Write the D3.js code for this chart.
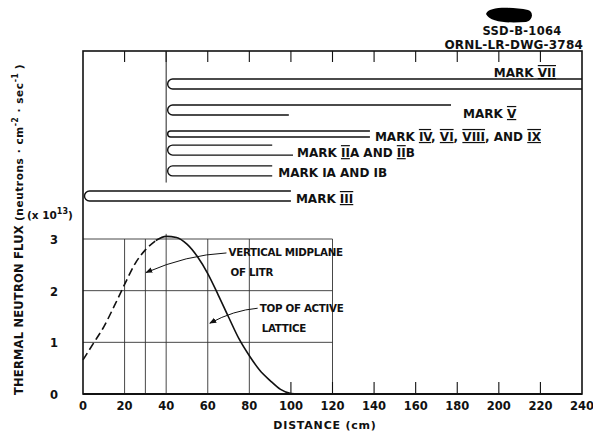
<!DOCTYPE html>
<html>
<head>
<meta charset="utf-8">
<script src="https://cdn.jsdelivr.net/npm/d3@7"></script>
<style>
  body { margin: 0; background: #fff; }
  text { font-family: "DejaVu Sans", "Liberation Sans", sans-serif; font-weight: bold; fill: #111; }
</style>
</head>
<body>
<div id="chart"></div>
<script>
// ---- data ----
const xTicks = [0, 20, 40, 60, 80, 100, 120, 140, 160, 180, 200, 220, 240];
const yTicks = [0, 1, 2, 3];
const gridX = [20, 30, 40, 60, 80, 120];
const gridY = [1, 2, 3];

// thermal flux profile (x10^13), dashed below ~35 cm
const fluxDistance = [0, 5, 10, 15, 20, 25, 30, 35, 40, 45, 50, 55, 60, 65, 70, 75, 80, 85, 90, 95, 100, 104];
const fluxValue    = [0.66, 0.98, 1.30, 1.70, 2.12, 2.52, 2.79, 2.97, 3.05, 3.03, 2.90, 2.66, 2.33, 1.92, 1.49, 1.07, 0.74, 0.46, 0.26, 0.09, 0.01, 0];
const dashedUntil = 35;

// fuel element lengths (cm): start, end of upper leg, end of lower leg
const markLabels = ["MARK [VII]", "MARK [V]", "MARK [IV], [VI], [VIII], AND [IX]", "MARK [II]A AND [II]B", "MARK IA AND IB", "MARK [III]"];
const markStart  = [40, 40, 40, 40, 40, 0];
const markUpper  = [240, 177, 138, 91, 91, 100];
const markLower  = [240, 99, 138, 101, 91, 100];

// layout only (row positions, hairpin half height, label offsets)
const markRow   = [0, 1.16, 2.23, 2.95, 3.88, 5];
const markHalf  = [5, 5, 3, 5, 5, 5];
const labelPos  = [[556, -7, "end"], [12, 8, "start"], [5, 7, "start"], [4, 7, "start"], [6, 6, "start"], [5, 7, "start"]];

const annotations = [
  {lines: ["VERTICAL MIDPLANE", "OF LITR"], tx: 70, ty: 2.75, from: [69, 2.73], to: [30.3, 2.35]},
  {lines: ["TOP OF ACTIVE", "LATTICE"], tx: 85, ty: 1.66, from: [84, 1.66], to: [61, 1.37]}
];

class fluxChart {
  constructor(element_id) {
    const W = 593, H = 435;
    this.svg = d3.select("#" + element_id).append("svg")
      .attr("width", W).attr("height", H);
    const svg = this.svg;

    const x = d3.scaleLinear().domain([0, 240]).range([83, 582]);
    const y = d3.scaleLinear().domain([0, 3]).range([394, 239]);
    const row = d3.scaleLinear().domain([0, 5]).range([84, 196]);
    const top = 51;

    svg.append("defs").append("marker")
      .attr("id", "arrow").attr("viewBox", "0 0 10 10")
      .attr("refX", 9).attr("refY", 5)
      .attr("markerWidth", 7).attr("markerHeight", 7)
      .attr("orient", "auto-start-reverse")
      .append("path").attr("d", "M0,1 L10,5 L0,9 z").attr("fill", "#111");

    // grid in the lower part
    svg.append("g").selectAll("line").data(gridY).join("line")
      .attr("x1", x(0)).attr("x2", x(120))
      .attr("y1", d => y(d)).attr("y2", d => y(d))
      .attr("stroke", "#333").attr("stroke-width", 0.9);
    svg.append("g").selectAll("line").data(gridX).join("line")
      .attr("x1", d => x(d)).attr("x2", d => x(d))
      .attr("y1", d => d == 40 ? y(3.1) : y(3)).attr("y2", y(0))
      .attr("stroke", "#333").attr("stroke-width", 0.9);

    // frame
    svg.append("rect")
      .attr("x", x(0)).attr("y", top)
      .attr("width", x(240) - x(0)).attr("height", y(0) - top)
      .attr("fill", "none").attr("stroke", "#111").attr("stroke-width", 1.6);

    // ticks along the top edge and the bottom edge
    svg.append("g").selectAll("line").data(xTicks.slice(1, -1)).join("line")
      .attr("x1", d => x(d)).attr("x2", d => x(d))
      .attr("y1", top).attr("y2", top + 11)
      .attr("stroke", "#111").attr("stroke-width", 1.1);
    svg.append("g").selectAll("line").data(xTicks.filter(d => d > 80 && d < 240)).join("line")
      .attr("x1", d => x(d)).attr("x2", d => x(d))
      .attr("y1", y(0)).attr("y2", y(0) - 12)
      .attr("stroke", "#111").attr("stroke-width", 1.1);
    svg.append("line")
      .attr("x1", x(0)).attr("x2", x(240)).attr("y1", y(0)).attr("y2", y(0))
      .attr("stroke", "#111").attr("stroke-width", 2);

    // the 40 cm line in the upper part
    svg.append("line")
      .attr("x1", x(40)).attr("x2", x(40)).attr("y1", top).attr("y2", row(4.4))
      .attr("stroke", "#222").attr("stroke-width", 1);

    // fuel element hairpins
    const hairpin = (i) => {
      const cy = row(markRow[i]), h = markHalf[i];
      const x0 = x(markStart[i]) + 1.5;
      return `M${x(markUpper[i])},${cy - h} L${x0 + h},${cy - h} ` +
             `A${h},${h} 0 0 0 ${x0 + h},${cy + h} L${x(markLower[i])},${cy + h}`;
    };
    svg.append("g").selectAll("path").data(markLabels).join("path")
      .attr("d", (d, i) => hairpin(i))
      .attr("fill", "none").attr("stroke", "#111").attr("stroke-width", 1.4);

    const labels = svg.append("g").selectAll("text").data(markLabels).join("text")
      .attr("x", (d, i) => labelPos[i][2] == "end" ? labelPos[i][0] : x(Math.max(markUpper[i], markLower[i])) + labelPos[i][0])
      .attr("y", (d, i) => row(markRow[i]) + labelPos[i][1])
      .attr("text-anchor", (d, i) => labelPos[i][2])
      .attr("font-size", 12);
    labels.each(function(d) {
      const t = d3.select(this);
      d.split(/(\[[^\]]+\])/).filter(s => s.length).forEach(s => {
        if (s[0] == "[") {
          t.append("tspan").text(s.slice(1, -1))
            .style("text-decoration", "underline overline");
        } else {
          t.append("tspan").text(s);
        }
      });
    });

    // flux curve
    const pts = fluxDistance.map((d, i) => [d, fluxValue[i]]);
    const line = d3.line().x(d => x(d[0])).y(d => y(d[1])).curve(d3.curveMonotoneX);
    svg.append("path").datum(pts.filter(p => p[0] <= dashedUntil))
      .attr("d", line).attr("fill", "none").attr("stroke", "#111")
      .attr("stroke-width", 1.6).attr("stroke-dasharray", "8,4");
    svg.append("path").datum(pts.filter(p => p[0] >= dashedUntil))
      .attr("d", line).attr("fill", "none").attr("stroke", "#111")
      .attr("stroke-width", 1.6);

    // annotations
    annotations.forEach(a => {
      const t = svg.append("text").attr("font-size", 10.3).attr("letter-spacing", -0.3);
      a.lines.forEach((l, k) => t.append("tspan")
        .attr("x", x(a.tx) + (k ? 2 : 0)).attr("y", y(a.ty) + 4 + k * 20).text(l));
      const [x1, y1] = [x(a.from[0]), y(a.from[1])];
      const [x2, y2] = [x(a.to[0]), y(a.to[1])];
      const cx = (x1 + x2) / 2, cyy = Math.min(y1, y2) + 2;
      svg.append("path")
        .attr("d", `M${x1},${y1} Q${cx},${cyy} ${x2},${y2}`)
        .attr("fill", "none").attr("stroke", "#111").attr("stroke-width", 1)
        .attr("marker-end", "url(#arrow)");
    });

    // x tick labels and title
    svg.append("g").selectAll("text").data(xTicks).join("text")
      .attr("x", d => x(d)).attr("y", y(0) + 16)
      .attr("text-anchor", "middle").attr("font-size", 11.5)
      .text(d => d);
    svg.append("text").attr("x", 325).attr("y", 429)
      .attr("text-anchor", "middle").attr("font-size", 11).attr("letter-spacing", 0.8)
      .text("DISTANCE (cm)");

    // y tick labels
    svg.append("g").selectAll("text").data(yTicks).join("text")
      .attr("x", 54).attr("y", d => y(d) + 5)
      .attr("text-anchor", "middle").attr("font-size", 11.5)
      .text(d => d);
    const mult = svg.append("text").attr("x", 27).attr("y", 219).attr("font-size", 10.5);
    mult.append("tspan").text("(x 10");
    mult.append("tspan").attr("dy", -5).attr("font-size", 8).text("13");
    mult.append("tspan").attr("dy", 5).text(")");

    // y axis title
    const yt = svg.append("text").attr("transform", "translate(23,395) rotate(-90)")
      .attr("font-size", 11.5).attr("letter-spacing", 0.2);
    yt.append("tspan").text("THERMAL NEUTRON FLUX ");
    yt.append("tspan").attr("font-size", 10.5).attr("letter-spacing", 0.6).text("(neutrons · cm");
    yt.append("tspan").attr("font-size", 8).attr("dy", -5).text("-2");
    yt.append("tspan").attr("font-size", 10.5).attr("letter-spacing", 0.6).attr("dy", 5).text(" · sec");
    yt.append("tspan").attr("font-size", 8).attr("dy", -5).text("-1");
    yt.append("tspan").attr("font-size", 10.5).attr("dy", 5).text(" )");

    // drawing number block
    svg.append("path")
      .attr("d", "M486,14 C488,6 512,7 528,10 C534,12 533,20 526,22 C510,23 490,23 486,14 Z")
      .attr("fill", "#000");
    svg.append("text").attr("x", 522).attr("y", 35).attr("text-anchor", "middle")
      .attr("font-size", 11.5).attr("letter-spacing", 0.3).text("SSD-B-1064");
    svg.append("text").attr("x", 583).attr("y", 49).attr("text-anchor", "end")
      .attr("font-size", 12).attr("letter-spacing", 0.2).text("ORNL-LR-DWG-3784");
  }
}

function whenDocumentLoaded(action) {
  if (document.readyState === "loading") {
    document.addEventListener("DOMContentLoaded", action);
  } else {
    action();
  }
}

whenDocumentLoaded(() => {
  plot_object = new fluxChart("chart");
});
</script>
</body>
</html>
